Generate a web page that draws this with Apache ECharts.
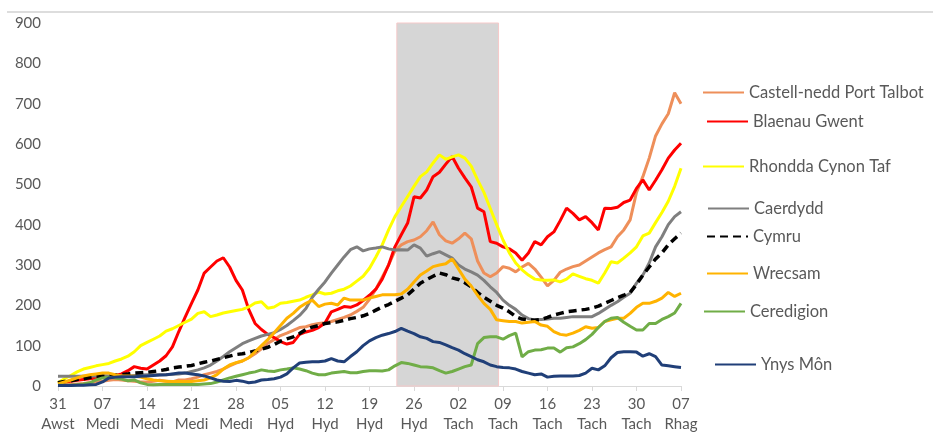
<!DOCTYPE html>
<html>
<head>
<meta charset="utf-8">
<script src="https://cdn.jsdelivr.net/npm/echarts@6/dist/echarts.min.js"></script>
<style>
  html, body { margin: 0; padding: 0; background: #fff; }
  #chart { width: 933px; height: 438px; }
</style>
</head>
<body>
<div id="chart"></div>
<script>
// tick labels, one every 7 days starting 31 Aug
const tickLabels = ['31\nAwst', '07\nMedi', '14\nMedi', '21\nMedi', '28\nMedi', '05\nHyd', '12\nHyd', '19\nHyd',
  '26\nHyd', '02\nTach', '09\nTach', '16\nTach', '23\nTach', '30\nTach', '07\nRhag']

// firebreak period (day index from 31 Aug)
const shadeFrom = 53.3
const shadeTo = 69.3

const castell = [
  2, 3, 4, 5, 6, 8, 10, 12, 14, 16,
  15, 13, 12, 10, 10, 12, 14, 12, 10, 15,
  15, 18, 22, 28, 32, 36, 42, 50, 57, 62,
  70, 80, 92, 106, 115, 125, 131, 138, 145, 147,
  152, 155, 157, 160, 165, 170, 176, 185, 195, 215,
  240, 270, 300, 335, 350, 358, 362, 370, 385, 407,
  375, 360, 354, 365, 379, 365, 310, 280, 271, 280,
  296, 292, 283, 295, 304, 290, 270, 248, 262, 282,
  290, 296, 300, 310, 320, 330, 338, 345, 370, 387,
  412, 480, 519, 565, 620, 650, 675, 727, 700
]
const blaenau = [
  8, 10, 12, 14, 16, 18, 20, 22, 24, 26,
  30, 38, 48, 44, 42, 52, 62, 75, 97, 135,
  171, 205, 238, 280, 295, 310, 318, 295, 262, 238,
  190, 155, 140, 128, 120, 110, 104, 108, 128, 134,
  138, 145, 156, 184, 190, 197, 195, 201, 212, 225,
  240, 265, 300, 345, 375, 404, 469, 466, 486, 519,
  530, 550, 569, 540, 516, 494, 441, 432, 358, 354,
  345, 340, 330, 312, 330, 358, 350, 370, 382, 410,
  441, 428, 412, 420, 405, 387, 441, 440, 443, 455,
  461, 490, 511, 486, 510, 536, 565, 585, 602
]
const rhondda = [
  8, 18, 26, 35, 42, 46, 50, 53, 56, 62,
  67, 74, 85, 100, 108, 116, 124, 136, 142, 150,
  158, 166, 180, 184, 172, 176, 181, 184, 187, 190,
  196, 206, 209, 193, 196, 205, 207, 210, 213, 220,
  226, 233, 228, 230, 236, 240, 248, 260, 272, 292,
  320, 350, 387, 420, 445, 470, 495, 519, 531, 553,
  573, 562, 568, 573, 565, 545, 511, 480, 440, 400,
  362, 330, 305, 288, 275, 265, 263, 262, 263, 258,
  265, 278, 272, 266, 262, 255, 280, 308, 305, 317,
  330, 345, 372, 379, 405, 430, 458, 495, 540
]
const caerdydd = [
  24, 24, 24, 24, 24, 25, 25, 26, 25, 24,
  25, 25, 26, 27, 28, 28, 28, 28, 29, 30,
  32, 36, 40, 45, 52, 62, 73, 85, 95, 105,
  112, 118, 124, 128, 132, 140, 150, 162, 175, 192,
  220, 240, 258, 280, 300, 320, 338, 345, 335, 340,
  342, 345, 340, 337, 338, 337, 350, 342, 322, 328,
  333, 325, 317, 300, 290, 283, 275, 262, 246, 232,
  213, 200, 190, 176, 167, 164, 165, 166, 168, 168,
  170, 172, 172, 172, 172, 180, 190, 200, 209, 220,
  230, 255, 275, 305, 345, 370, 400, 420, 432
]
const cymru = [
  8, 11, 13, 16, 18, 21, 23, 24, 25, 27,
  28, 30, 32, 33, 34, 36, 38, 41, 45, 47,
  49, 51, 55, 59, 62, 66, 70, 74, 78, 80,
  83, 87, 91, 96, 103, 111, 117, 122, 130, 140,
  146, 150, 155, 157, 159, 163, 167, 170, 174, 180,
  188, 196, 202, 210, 218, 226, 240, 255, 264, 272,
  280, 276, 268, 264, 256, 246, 232, 220, 210, 200,
  193, 184, 172, 166, 164, 163, 165, 170, 176, 180,
  184, 186, 188, 190, 193, 198, 205, 212, 219, 225,
  232, 252, 275, 295, 315, 330, 350, 365, 379
]
const wrecsam = [
  5, 10, 15, 20, 25, 28, 30, 32, 32, 28,
  25, 25, 24, 22, 18, 15, 13, 12, 11, 11,
  11, 11, 13, 15, 20, 28, 42, 52, 58, 62,
  70, 85, 100, 115, 132, 150, 168, 180, 195, 205,
  213, 197, 203, 205, 201, 218, 213, 213, 213, 218,
  222, 226, 226, 226, 228, 240, 258, 275, 285, 296,
  300, 303, 315, 290, 265, 248, 225, 205, 190, 164,
  162, 160, 160, 156, 158, 160, 151, 148, 135, 128,
  126, 131, 138, 147, 143, 145, 160, 164, 168, 168,
  180, 195, 205, 205, 210, 218, 232, 222, 230
]
const ceredigion = [
  2, 2, 2, 3, 5, 8, 15, 20, 22, 20,
  17, 13, 15, 8, 4, 3, 4, 4, 4, 4,
  4, 4, 4, 5, 6, 10, 15, 20, 24, 28,
  32, 35, 40, 37, 36, 40, 42, 45, 42, 38,
  32, 28, 28, 32, 34, 36, 33, 33, 36, 38,
  38, 37, 40, 50, 58, 56, 52, 48, 47, 45,
  38, 32, 36, 42, 48, 52, 105, 120, 122, 122,
  116, 125, 131, 72, 85, 89, 90, 94, 94, 84,
  95, 97, 105, 115, 128, 145, 160, 168, 170, 158,
  148, 139, 139, 155, 155, 165, 172, 181, 205
]
const ynysMon = [
  1, 1, 1, 2, 2, 3, 4, 10, 20, 22,
  23, 23, 23, 24, 25, 26, 27, 28, 30, 32,
  32, 30, 28, 25, 20, 15, 12, 11, 14, 12,
  8, 10, 15, 16, 18, 22, 30, 45, 57, 59,
  60, 60, 62, 68, 62, 60, 73, 85, 100, 112,
  120, 126, 130, 135, 143, 136, 130, 122, 118, 110,
  108, 102, 95, 89, 80, 73, 65, 60, 52, 48,
  46, 45, 42, 36, 32, 28, 30, 22, 24, 25,
  25, 25, 26, 32, 44, 40, 50, 70, 83, 85,
  85, 84, 74, 80, 73, 52, 50, 48, 46
]

const seriesList = [
  { name: 'Castell-nedd Port Talbot', values: castell, color: '#EE8F5A' },
  { name: 'Blaenau Gwent', values: blaenau, color: '#FF0000' },
  { name: 'Rhondda Cynon Taf', values: rhondda, color: '#FFFF00' },
  { name: 'Caerdydd', values: caerdydd, color: '#7F7F7F' },
  { name: 'Cymru', values: cymru, color: '#000000', dashed: true },
  { name: 'Wrecsam', values: wrecsam, color: '#FFB300' },
  { name: 'Ceredigion', values: ceredigion, color: '#70AD47' },
  { name: 'Ynys Môn', values: ynysMon, color: '#203F78' }
]

// legend positions (left, top) for each entry
const legendPos = [[702, 83], [706, 112], [702, 157], [707, 199], [706, 227], [706, 264], [703, 302], [714, 355]]

const chart = echarts.init(document.getElementById('chart'))
const font = 'Lato, "Open Sans", sans-serif'

const series = seriesList.map(s => ({
  name: s.name,
  type: 'line',
  data: s.values.map((v, i) => [i, v]),
  symbol: 'none',
  z: 3,
  itemStyle: { color: s.color },
  lineStyle: { color: s.color, width: s.dashed ? 3.5 : 3, type: s.dashed ? [8, 5] : 'solid', cap: 'butt' }
}))

series.unshift({
  name: 'shade',
  type: 'line',
  data: [],
  z: 1,
  markArea: {
    silent: true,
    itemStyle: { color: '#D6D6D6', borderColor: '#F6C9C9', borderWidth: 1 },
    data: [[{ xAxis: shadeFrom, yAxis: 0 }, { xAxis: shadeTo, yAxis: 900 }]]
  }
})

const option = {
  animation: false,
  backgroundColor: '#fff',
  textStyle: { fontFamily: font },
  grid: { left: 58, right: 252, top: 23, bottom: 52 },
  xAxis: {
    type: 'value',
    min: 0,
    max: 98,
    interval: 7,
    axisLine: { show: true, lineStyle: { color: '#D9D9D9', width: 1 } },
    axisTick: { show: true, length: 5, lineStyle: { color: '#D9D9D9' } },
    splitLine: { show: false },
    axisLabel: {
      color: '#595959',
      fontSize: 15,
      fontFamily: font,
      lineHeight: 20,
      margin: 8,
      formatter: v => tickLabels[v / 7]
    }
  },
  yAxis: {
    type: 'value',
    min: 0,
    max: 900,
    interval: 100,
    axisLine: { show: false },
    axisTick: { show: false },
    splitLine: { show: false },
    axisLabel: { color: '#595959', fontSize: 15, fontFamily: font, margin: 17 }
  },
  legend: seriesList.map((s, i) => ({
    data: [s.name],
    left: legendPos[i][0],
    top: legendPos[i][1] + 1,
    padding: 0,
    itemWidth: 41,
    itemHeight: 14,
    selectedMode: false,
    itemStyle: { opacity: 0 },
    textStyle: { color: '#595959', fontSize: 16.5, fontFamily: font }
  })),
  graphic: [{
    type: 'line',
    shape: { x1: 7, y1: 12, x2: 933, y2: 12 },
    style: { stroke: '#DDDDDD', lineWidth: 2 }
  }],
  series: series
}

chart.setOption(option)
</script>
</body>
</html>
